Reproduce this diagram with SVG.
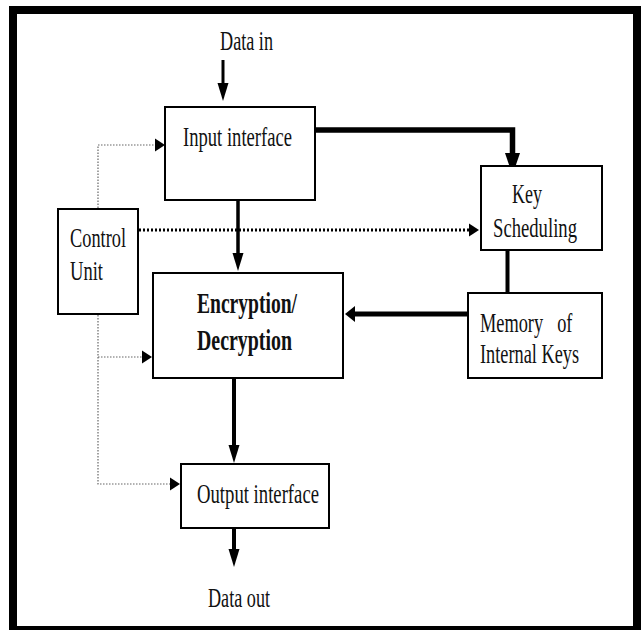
<svg xmlns="http://www.w3.org/2000/svg" width="642" height="630" viewBox="0 0 642 630">
  <style>
    .box { fill: #ffffff; stroke: #000000; stroke-width: 2; }
    .lbl { font-family: "Liberation Serif", "Times New Roman", serif; font-size: 28px; fill: #111111; }
    .bold { font-weight: bold; font-size: 29px; }
    .solid { fill: none; stroke: #000000; stroke-linejoin: miter; }
    .dot-thick { fill: none; stroke: #000000; stroke-width: 3; stroke-dasharray: 2 2; }
    .dot-thin { fill: none; stroke: #666666; stroke-width: 1.2; stroke-dasharray: 1.5 1.5; }
  </style>
  <defs>
    <marker id="ah-big" markerUnits="userSpaceOnUse" orient="auto" overflow="visible" refX="2" refY="0" markerWidth="22" markerHeight="16">
      <path d="M0,-7.5 L22,0 L0,7.5 Z" fill="#000"/>
    </marker>
    <marker id="ah-med" markerUnits="userSpaceOnUse" orient="auto" overflow="visible" refX="2" refY="0" markerWidth="18" markerHeight="12">
      <path d="M0,-5.5 L18,0 L0,5.5 Z" fill="#000"/>
    </marker>
    <marker id="ah-wide" markerUnits="userSpaceOnUse" orient="auto" overflow="visible" refX="2" refY="0" markerWidth="10" markerHeight="16">
      <path d="M0,-8 L10,0 L0,8 Z" fill="#000"/>
    </marker>
    <marker id="ah-dot" markerUnits="userSpaceOnUse" orient="auto" overflow="visible" refX="1" refY="0" markerWidth="10" markerHeight="13">
      <path d="M0,-6.5 L10,0 L0,6.5 Z" fill="#000"/>
    </marker>
  </defs>

  <rect x="0" y="0" width="642" height="630" fill="#ffffff"/>
  <rect id="frame" x="13" y="10" width="624" height="620" fill="#ffffff" stroke="#000000" stroke-width="8"/>

  <g id="connectors">
    <path class="solid" stroke-width="3" d="M223,60 V85" marker-end="url(#ah-med)"/>
    <path class="solid" stroke-width="5.5" d="M316,130 H512.5 V155" marker-end="url(#ah-big)"/>
    <path class="solid" stroke-width="3.5" d="M238,201 V255" marker-end="url(#ah-med)"/>
    <path class="solid" stroke-width="4" d="M507.5,251 V293"/>
    <path class="solid" stroke-width="5" d="M467,314 H353" marker-end="url(#ah-wide)"/>
    <path class="solid" stroke-width="4" d="M234,379 V447" marker-end="url(#ah-med)"/>
    <path class="solid" stroke-width="4" d="M234,528 V551" marker-end="url(#ah-med)"/>
    <path class="dot-thick" d="M139,230 H470" marker-end="url(#ah-dot)"/>
    <path class="dot-thin" d="M98,208 V145 H156" marker-end="url(#ah-dot)"/>
    <path class="dot-thin" d="M98,315 V484 H171" marker-end="url(#ah-dot)"/>
    <path class="dot-thin" d="M98,357 H143" marker-end="url(#ah-dot)"/>
  </g>

  <g id="data-in">
    <text class="lbl" x="220" y="50" textLength="53" lengthAdjust="spacingAndGlyphs">Data in</text>
  </g>

  <g id="input-interface">
    <rect class="box" x="165" y="107" width="150" height="93"/>
    <text class="lbl" x="183" y="146" textLength="109" lengthAdjust="spacingAndGlyphs">Input interface</text>
  </g>

  <g id="key-scheduling">
    <rect class="box" x="481" y="166" width="121" height="84"/>
    <text class="lbl" x="512" y="203" textLength="30" lengthAdjust="spacingAndGlyphs">Key</text>
    <text class="lbl" x="493" y="237" textLength="84" lengthAdjust="spacingAndGlyphs">Scheduling</text>
  </g>

  <g id="control-unit">
    <rect class="box" x="58" y="209" width="80" height="105"/>
    <text class="lbl" x="70" y="247" textLength="56" lengthAdjust="spacingAndGlyphs">Control</text>
    <text class="lbl" x="70" y="280" textLength="33" lengthAdjust="spacingAndGlyphs">Unit</text>
  </g>

  <g id="encryption-decryption">
    <rect class="box" x="153" y="273" width="190" height="105"/>
    <text class="lbl bold" x="197" y="313" textLength="100" lengthAdjust="spacingAndGlyphs">Encryption/</text>
    <text class="lbl bold" x="197" y="350" textLength="95" lengthAdjust="spacingAndGlyphs">Decryption</text>
  </g>

  <g id="memory-internal-keys">
    <rect class="box" x="468" y="293" width="134" height="85"/>
    <text class="lbl" x="0" y="0" transform="translate(480,332) scale(0.655,1)" word-spacing="14.5">Memory of</text>
    <text class="lbl" x="480" y="363" textLength="99" lengthAdjust="spacingAndGlyphs">Internal Keys</text>
  </g>

  <g id="output-interface">
    <rect class="box" x="181" y="464" width="148" height="64"/>
    <text class="lbl" x="197" y="503" textLength="122" lengthAdjust="spacingAndGlyphs">Output interface</text>
  </g>

  <g id="data-out">
    <text class="lbl" x="208" y="607" textLength="62" lengthAdjust="spacingAndGlyphs">Data out</text>
  </g>
</svg>
